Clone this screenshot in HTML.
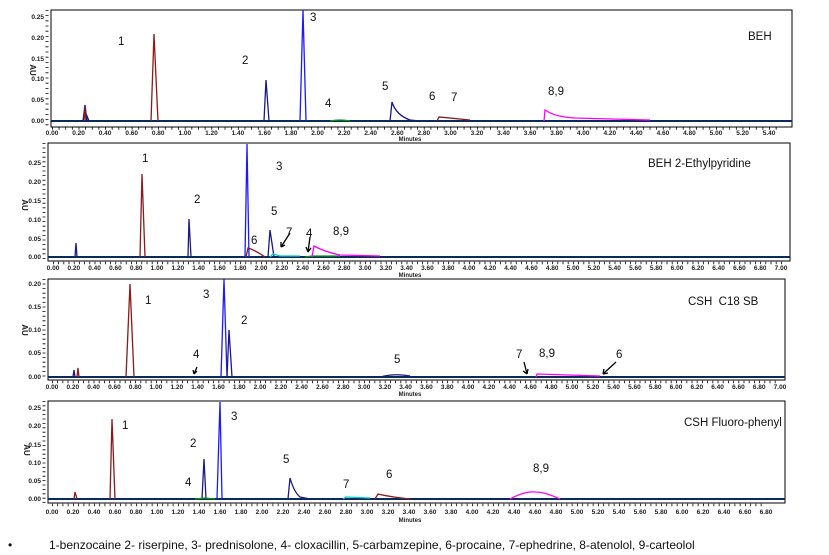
<!DOCTYPE html>
<html><head><meta charset="utf-8"><style>
body{margin:0;background:#fff;width:829px;height:555px;overflow:hidden}
svg{display:block}
.t{font-family:"Liberation Sans",sans-serif;font-size:6.5px;fill:#222;text-anchor:middle;font-weight:bold}
.y{font-family:"Liberation Sans",sans-serif;font-size:6.5px;fill:#222;text-anchor:end;font-weight:bold}
.n{font-family:"Liberation Sans",sans-serif;font-size:11.5px;fill:#111}
.ft{font-family:"Liberation Sans",sans-serif;font-size:12px;fill:#111}
path{fill:none;stroke-width:1.3}
</style></head><body>
<svg width="829" height="555" viewBox="0 0 829 555">
<!-- PANEL 1 -->
<rect x="51" y="10" width="741" height="117" fill="none" stroke="#000" stroke-width="1"/>
<line x1="51" y1="121" x2="792" y2="121" stroke="#0a2a5a" stroke-width="2"/>
<line x1="52" y1="128.5" x2="780" y2="128.5" stroke="#000" stroke-width="2.5" stroke-dasharray="0.8 5.84"/>
<line x1="47" y1="10" x2="47" y2="127" stroke="#000" stroke-width="3" stroke-dasharray="0.8 4.4"/>
<g class="y"><text x="44" y="19">0.25</text><text x="44" y="40">0.20</text><text x="44" y="61">0.15</text><text x="44" y="81">0.10</text><text x="44" y="102">0.05</text><text x="44" y="123">0.00</text></g>
<text class="t" transform="translate(30,70) rotate(90)" style="font-size:8px">AU</text>
<text class="t"><tspan x="52" y="135">0.00</tspan><tspan x="78.6">0.20</tspan><tspan x="105.1">0.40</tspan><tspan x="131.7">0.60</tspan><tspan x="158.2">0.80</tspan><tspan x="184.8">1.00</tspan><tspan x="211.4">1.20</tspan><tspan x="237.9">1.40</tspan><tspan x="264.5">1.60</tspan><tspan x="291">1.80</tspan><tspan x="317.6">2.00</tspan><tspan x="344.2">2.20</tspan><tspan x="370.7">2.40</tspan><tspan x="397.3">2.60</tspan><tspan x="423.8">2.80</tspan><tspan x="450.4">3.00</tspan><tspan x="477">3.20</tspan><tspan x="503.5">3.40</tspan><tspan x="530.1">3.60</tspan><tspan x="556.6">3.80</tspan><tspan x="583.2">4.00</tspan><tspan x="609.8">4.20</tspan><tspan x="636.3">4.40</tspan><tspan x="662.9">4.60</tspan><tspan x="689.4">4.80</tspan><tspan x="716">5.00</tspan><tspan x="742.6">5.20</tspan><tspan x="769.1">5.40</tspan></text>
<text class="t" x="410" y="141" style="font-size:6px">Minutes</text>
<path d="M83,121 L85,105 L87,121" stroke="#1a1a80"/>
<path d="M84,121 L85,108 L86,121" stroke="#8b1a1a"/>
<path d="M86,121 L87,116 L89,121" stroke="#1a1a80"/>
<path d="M151,121 L154,34 L158,121" stroke="#8b1a1a"/>
<path d="M264,121 L266,80 L269,121" stroke="#1a1a80"/>
<path d="M300,121 L303,10 L306,121" stroke="#1a1aff"/>
<path d="M390,121 L392,102 Q396,115 410,120 L420,121" stroke="#1a1a80"/>
<path d="M437,121 L439,117 L470,120" stroke="#8b1a1a"/>
<path d="M544,121 L545,110 Q555,117 575,118 L650,120" stroke="#ff00ff"/>
<path d="M330,121 Q340,119 350,121" stroke="#00a000"/>
<g class="n"><text x="118" y="45">1</text><text x="242" y="64">2</text><text x="310" y="21">3</text><text x="325" y="107">4</text><text x="382" y="90">5</text><text x="429" y="100">6</text><text x="451" y="101">7</text><text x="548" y="95">8,9</text><text x="748" y="40">BEH</text></g>

<!-- PANEL 2 -->
<rect x="48" y="143" width="742" height="118" fill="none" stroke="#000" stroke-width="1"/>
<line x1="48" y1="257" x2="790" y2="257" stroke="#0a2a5a" stroke-width="2"/>
<line x1="53" y1="263" x2="785" y2="263" stroke="#000" stroke-width="2.5" stroke-dasharray="0.8 4.4"/>
<line x1="44" y1="143" x2="44" y2="261" stroke="#000" stroke-width="3" stroke-dasharray="0.8 3.8"/>
<g class="y"><text x="41" y="165">0.25</text><text x="41" y="184">0.20</text><text x="41" y="203">0.15</text><text x="41" y="222">0.10</text><text x="41" y="241">0.05</text><text x="41" y="259">0.00</text></g>
<text class="t" transform="translate(22,205) rotate(90)" style="font-size:8px">AU</text>
<text class="t"><tspan x="53" y="270">0.00</tspan><tspan x="73.8">0.20</tspan><tspan x="94.6">0.40</tspan><tspan x="115.4">0.60</tspan><tspan x="136.2">0.80</tspan><tspan x="157">1.00</tspan><tspan x="177.8">1.20</tspan><tspan x="198.6">1.40</tspan><tspan x="219.4">1.60</tspan><tspan x="240.2">1.80</tspan><tspan x="261">2.00</tspan><tspan x="281.8">2.20</tspan><tspan x="302.6">2.40</tspan><tspan x="323.4">2.60</tspan><tspan x="344.2">2.80</tspan><tspan x="365">3.00</tspan><tspan x="385.8">3.20</tspan><tspan x="406.6">3.40</tspan><tspan x="427.4">3.60</tspan><tspan x="448.2">3.80</tspan><tspan x="469">4.00</tspan><tspan x="489.8">4.20</tspan><tspan x="510.6">4.40</tspan><tspan x="531.4">4.60</tspan><tspan x="552.2">4.80</tspan><tspan x="573">5.00</tspan><tspan x="593.8">5.20</tspan><tspan x="614.6">5.40</tspan><tspan x="635.4">5.60</tspan><tspan x="656.2">5.80</tspan><tspan x="677">6.00</tspan><tspan x="697.8">6.20</tspan><tspan x="718.6">6.40</tspan><tspan x="739.4">6.60</tspan><tspan x="760.2">6.80</tspan><tspan x="781">7.00</tspan></text>
<text class="t" x="410" y="277" style="font-size:6px">Minutes</text>
<path d="M75,257 L76,243 L77,257" stroke="#1a1a80"/>
<path d="M140,257 L142,174 L145,257" stroke="#8b1a1a"/>
<path d="M188,257 L189,219 L191,257" stroke="#1a1a80"/>
<path d="M245,257 L247,144 L249,257" stroke="#1a1aff"/>
<path d="M246,257 L248,248 Q255,250 265,257" stroke="#8b1a1a"/>
<path d="M268,257 L270,230 L274,257" stroke="#1a1a80"/>
<path d="M270,257 L273,254 L280,256 L300,256" stroke="#00cccc"/>
<path d="M305,257 L312,256 L340,256" stroke="#00a000"/>
<path d="M312,257 L314,246 Q325,252 340,255 L380,256" stroke="#ff00ff"/>
<path d="M290,233 L281,247 M281,247 L281,242 M281,247 L285,245" stroke="#000" stroke-width="1"/>
<path d="M310,237 L308,252 M308,252 L306,247 M308,252 L311,248" stroke="#000" stroke-width="1"/>
<g class="n"><text x="142" y="162">1</text><text x="194" y="203">2</text><text x="276" y="170">3</text><text x="271" y="215">5</text><text x="251" y="244">6</text><text x="286" y="236">7</text><text x="306" y="237">4</text><text x="333" y="235">8,9</text><text x="648" y="167">BEH 2-Ethylpyridine</text></g>

<!-- PANEL 3 -->
<rect x="48" y="279" width="737" height="101" fill="none" stroke="#000" stroke-width="1"/>
<line x1="48" y1="377" x2="785" y2="377" stroke="#0a2a5a" stroke-width="2"/>
<line x1="52" y1="382" x2="780" y2="382" stroke="#000" stroke-width="2.5" stroke-dasharray="0.8 4.4"/>
<line x1="44" y1="279" x2="44" y2="380" stroke="#000" stroke-width="3" stroke-dasharray="0.8 3.8"/>
<g class="y"><text x="41" y="286">0.20</text><text x="41" y="309">0.15</text><text x="41" y="332">0.10</text><text x="41" y="355">0.05</text><text x="41" y="379">0.00</text></g>
<text class="t" transform="translate(22,330) rotate(90)" style="font-size:8px">AU</text>
<text class="t"><tspan x="52" y="389">0.00</tspan><tspan x="72.8">0.20</tspan><tspan x="93.6">0.40</tspan><tspan x="114.4">0.60</tspan><tspan x="135.2">0.80</tspan><tspan x="156">1.00</tspan><tspan x="176.8">1.20</tspan><tspan x="197.6">1.40</tspan><tspan x="218.4">1.60</tspan><tspan x="239.2">1.80</tspan><tspan x="260">2.00</tspan><tspan x="280.8">2.20</tspan><tspan x="301.6">2.40</tspan><tspan x="322.4">2.60</tspan><tspan x="343.2">2.80</tspan><tspan x="364">3.00</tspan><tspan x="384.8">3.20</tspan><tspan x="405.6">3.40</tspan><tspan x="426.4">3.60</tspan><tspan x="447.2">3.80</tspan><tspan x="468">4.00</tspan><tspan x="488.8">4.20</tspan><tspan x="509.6">4.40</tspan><tspan x="530.4">4.60</tspan><tspan x="551.2">4.80</tspan><tspan x="572">5.00</tspan><tspan x="592.8">5.20</tspan><tspan x="613.6">5.40</tspan><tspan x="634.4">5.60</tspan><tspan x="655.2">5.80</tspan><tspan x="676">6.00</tspan><tspan x="696.8">6.20</tspan><tspan x="717.6">6.40</tspan><tspan x="738.4">6.60</tspan><tspan x="759.2">6.80</tspan><tspan x="780">7.00</tspan></text>
<text class="t" x="410" y="396" style="font-size:6px">Minutes</text>
<path d="M73,377 L74,370 L75,377" stroke="#1a1a80"/>
<path d="M77,377 L78,368 L79,377" stroke="#8b1a1a"/>
<path d="M126,377 L130,284 L134,377" stroke="#8b1a1a"/>
<path d="M221,377 L224,279 L227,377" stroke="#1a1aff"/>
<path d="M227,377 L229,330 L232,377" stroke="#1a1a80"/>
<path d="M380,377 Q395,373 410,376" stroke="#1a1a80"/>
<path d="M536,377 L537,374 L600,376" stroke="#ff00ff"/>
<path d="M197,367 L194,374 M194,374 L193,370 M194,374 L197,371" stroke="#000" stroke-width="1"/>
<path d="M524,362 L527,374 M527,374 L523,371 M527,374 L528,369" stroke="#000" stroke-width="1"/>
<path d="M616,362 L603,374 M603,374 L604,369 M603,374 L608,373" stroke="#000" stroke-width="1"/>
<g class="n"><text x="145" y="304">1</text><text x="203" y="298">3</text><text x="241" y="324">2</text><text x="193" y="358">4</text><text x="394" y="363">5</text><text x="516" y="358">7</text><text x="539" y="357">8,9</text><text x="616" y="358">6</text><text x="688" y="305" xml:space="preserve">CSH  C18 SB</text></g>

<!-- PANEL 4 -->
<rect x="48" y="401" width="737" height="102" fill="none" stroke="#000" stroke-width="1"/>
<line x1="48" y1="499" x2="785" y2="499" stroke="#0a2a5a" stroke-width="2"/>
<line x1="52" y1="505" x2="766" y2="505" stroke="#000" stroke-width="2.5" stroke-dasharray="0.8 4.45"/>
<line x1="44" y1="401" x2="44" y2="503" stroke="#000" stroke-width="3" stroke-dasharray="0.8 3.6"/>
<g class="y"><text x="41" y="410">0.25</text><text x="41" y="428">0.20</text><text x="41" y="447">0.15</text><text x="41" y="465">0.10</text><text x="41" y="483">0.05</text><text x="41" y="501">0.00</text></g>
<text class="t" transform="translate(24,450) rotate(90)" style="font-size:8px">AU</text>
<text class="t"><tspan x="52" y="514">0.00</tspan><tspan x="73">0.20</tspan><tspan x="94">0.40</tspan><tspan x="115">0.60</tspan><tspan x="136">0.80</tspan><tspan x="157">1.00</tspan><tspan x="178">1.20</tspan><tspan x="199">1.40</tspan><tspan x="220">1.60</tspan><tspan x="241">1.80</tspan><tspan x="262">2.00</tspan><tspan x="283">2.20</tspan><tspan x="304">2.40</tspan><tspan x="325">2.60</tspan><tspan x="346">2.80</tspan><tspan x="367">3.00</tspan><tspan x="388">3.20</tspan><tspan x="409">3.40</tspan><tspan x="430">3.60</tspan><tspan x="451">3.80</tspan><tspan x="472">4.00</tspan><tspan x="493">4.20</tspan><tspan x="514">4.40</tspan><tspan x="535">4.60</tspan><tspan x="556">4.80</tspan><tspan x="577">5.00</tspan><tspan x="598">5.20</tspan><tspan x="619">5.40</tspan><tspan x="640">5.60</tspan><tspan x="661">5.80</tspan><tspan x="682">6.00</tspan><tspan x="703">6.20</tspan><tspan x="724">6.40</tspan><tspan x="745">6.60</tspan><tspan x="766">6.80</tspan></text>
<text class="t" x="410" y="522" style="font-size:6px">Minutes</text>
<path d="M74,499 L75,492 L77,499" stroke="#8b1a1a"/>
<path d="M110,499 L112,419 L115,499" stroke="#8b1a1a"/>
<path d="M202,499 L204,459 L206,499" stroke="#1a1a80"/>
<path d="M217,499 L220,402 L222,499" stroke="#1a1aff"/>
<path d="M195,499 L205,498 L215,499" stroke="#00a000"/>
<path d="M288,499 L290,478 Q294,492 300,497 L310,499" stroke="#1a1a80"/>
<path d="M343,499 L346,497 L370,498" stroke="#00cccc"/>
<path d="M375,499 L378,494 Q390,497 410,499" stroke="#8b1a1a"/>
<path d="M510,499 Q525,491 535,492 Q545,492 560,499" stroke="#ff00ff"/>
<g class="n"><text x="122" y="429">1</text><text x="190" y="447">2</text><text x="231" y="420">3</text><text x="185" y="486">4</text><text x="283" y="463">5</text><text x="343" y="488">7</text><text x="386" y="478">6</text><text x="533" y="472">8,9</text><text x="684" y="426">CSH Fluoro-phenyl</text></g>

<!-- footer -->
<text class="ft" x="8" y="549">•</text>
<text class="ft" x="49" y="549">1-benzocaine 2- riserpine, 3- prednisolone, 4- cloxacillin,  5-carbamzepine, 6-procaine, 7-ephedrine, 8-atenolol, 9-carteolol</text>
</svg>
</body></html>
